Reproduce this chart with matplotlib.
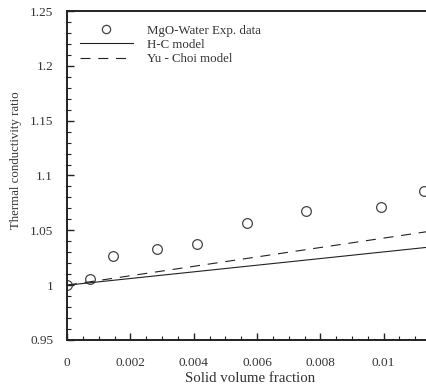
import matplotlib
matplotlib.use("Agg")
import matplotlib.pyplot as plt
from matplotlib.ticker import MultipleLocator

# experimental data (MgO-water)
phi_exp = [0.0, 0.00073, 0.00144, 0.00283, 0.00412, 0.00567, 0.00756, 0.0099, 0.01126]
k_exp = [1.0, 1.0052, 1.0266, 1.0334, 1.0373, 1.0566, 1.0679, 1.0716, 1.0857]

# model lines
phi_model = [0.0, 0.012]
k_hc = [1.0, 1.0364]
k_yc = [1.0, 1.0515]

plt.rcParams['font.family'] = ['Liberation Serif', 'DejaVu Serif']
txt = '#333333'

fig = plt.figure(figsize=(4.26, 3.85), dpi=100)
ax = fig.add_axes([67/426, 45/385, 380/426, 329/385])

ax.plot(phi_exp, k_exp, 'o', mfc='none', mec='#444444', ms=7, mew=0.9,
        label='MgO-Water Exp. data')
ax.plot(phi_model, k_hc, '-', color='#222222', lw=0.8, label='H-C model')
ax.plot(phi_model, k_yc, '--', color='#222222', lw=0.8, dashes=(9, 7),
        label='Yu - Choi model')

ax.set_xlim(0, 0.012)
ax.set_ylim(0.95, 1.25)
ax.xaxis.set_minor_locator(MultipleLocator(0.0005))
ax.yaxis.set_minor_locator(MultipleLocator(0.01))
ax.set_xticks([0, 0.002, 0.004, 0.006, 0.008, 0.01])
ax.set_xticklabels(['0', '0.002', '0.004', '0.006', '0.008', '0.01'])
ax.set_yticks([0.95, 1.0, 1.05, 1.1, 1.15, 1.2, 1.25])
ax.set_yticklabels(['0.95', '1', '1.05', '1.1', '1.15', '1.2', '1.25'])

ax.tick_params(which='both', direction='in', top=False, right=False,
               labelsize=9.5, colors='#222222', labelcolor=txt)
ax.tick_params(which='major', length=5, width=1.0)
ax.tick_params(which='minor', length=3, width=0.8)
ax.tick_params(axis='x', which='major', pad=12)
ax.tick_params(axis='y', which='major', pad=10)
for s in ax.spines.values():
    s.set_linewidth(1.4)
    s.set_color('#222222')

ax.set_xlabel('Solid volume fraction', fontsize=10.7, color=txt)
ax.set_ylabel('Thermal conductivity ratio', fontsize=9.3, color=txt)
ax.xaxis.set_label_coords(0.482, -0.098)
ax.yaxis.set_label_coords(-0.118, 0.547)

leg = ax.legend(loc='upper left', bbox_to_anchor=(0.034, 0.958), frameon=False,
                fontsize=9.3, numpoints=1, handlelength=4.1, handletextpad=1.1,
                labelspacing=0.16, borderaxespad=0.0, borderpad=0.0,
                markerscale=0.85)
for t in leg.get_texts():
    t.set_color(txt)

fig.savefig('out.png', dpi=100)
